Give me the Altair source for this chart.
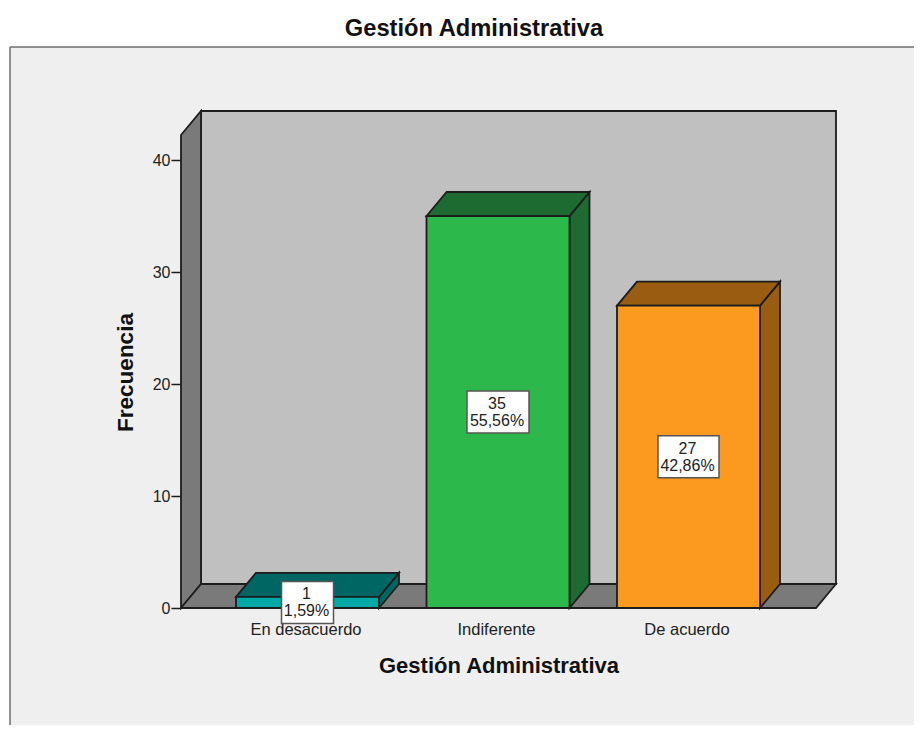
import json
import altair as alt
import pandas as pd

categories = ["En desacuerdo", "Indiferente", "De acuerdo"]
counts = [1, 35, 27]
percents = ["1,59%", "55,56%", "42,86%"]
front_colors = ["#00a9a5", "#2db84b", "#fb9a1e"]
dark_colors = ["#006663", "#1d6b30", "#995c11"]
box_half_px = [26, 31, 30.5]
title_text = "Gestión Administrativa"
y_title = "Frecuencia"
y_ticks = [0, 10, 20, 30, 40]

PW, PH = 655, 497
PX_X, PX_Y = 190.5, 11.2
xd = (1 + (181 - 307.5) / PX_X, 1 + (836 - 307.5) / PX_X)
yd = (0, PH / PX_Y)
DX, DY = 20 / PX_X, 24 / PX_Y
HALF = 71.5 / PX_X
INK = "#1c1c1c"
SW = 1.8
FRONT_R = xd[1] - DX
FONT = "Liberation Sans"

xscale = alt.Scale(domain=list(xd), nice=False, zero=False)
yscale = alt.Scale(domain=list(yd), nice=False)
xaxis = alt.Axis(values=[1, 2, 3], title=title_text, domain=False, ticks=False, grid=False,
                 labelExpr=json.dumps(categories) + "[datum.value - 1]",
                 labelFont=FONT, labelFontSize=16.5, labelColor="#222", labelPadding=13, labelOffset=-2,
                 titleFont=FONT, titleFontSize=22, titleFontWeight="bold", titleColor="#111",
                 titlePadding=18, titleX=317.5, labelOverlap=False)
yaxis = alt.Axis(values=y_ticks, title=y_title, domain=False, ticks=True, tickSize=10, tickWidth=1.5,
                 tickColor=INK, grid=False, labelFont=FONT, labelFontSize=16, labelColor="#222",
                 labelPadding=1, titleFont=FONT, titleFontSize=22.5, titleFontWeight="bold",
                 titleColor="#111", titlePadding=15, titleY=261)

x = lambda f="x": alt.X(f"{f}:Q", scale=xscale, axis=xaxis)
y = lambda f="y": alt.Y(f"{f}:Q", scale=yscale, axis=yaxis)

def side(key, xv, top, fill):
    return [{"k": key, "x": xv, "y": top, "y2": 0, "fill": fill},
            {"k": key, "x": xv + DX, "y": top + DY, "y2": DY, "fill": fill}]

def lid(key, l, r, v, fill):
    return [{"k": key, "x": l, "x2": r, "y": v, "fill": fill},
            {"k": key, "x": l + DX, "x2": r + DX, "y": v + DY, "fill": fill}]

sides, lids, fronts, labels = [], [], [], []
for i, c in enumerate(categories):
    cx, v = i + 1, counts[i]
    sides += side(c, cx + HALF, v, dark_colors[i])
    lids += lid(c, cx - HALF, cx + HALF, v, dark_colors[i])
    fronts.append({"x": cx - HALF, "x2": cx + HALF, "y": 0, "y2": v, "fill": front_colors[i]})
    labels.append({"x": cx, "y": v / 2, "x0": cx - box_half_px[i] / PX_X, "x1": cx + box_half_px[i] / PX_X,
                   "y0": v / 2 - 21 / PX_Y, "y1": v / 2 + 21 / PX_Y,
                   "n": str(v), "p": percents[i]})
sides_df, lids_df = pd.DataFrame(sides), pd.DataFrame(lids)
fronts_df, labels_df = pd.DataFrame(fronts), pd.DataFrame(labels)
wall_side_df = pd.DataFrame(side("wall", xd[0], yd[1] - DY, "#7a7a7a"))
floor_df = pd.DataFrame(lid("floor", xd[0], FRONT_R, 0, "#7a7a7a"))

fill = alt.Fill("fill:N", scale=None, legend=None)
one = pd.DataFrame({"a": [0]})

strip_top = alt.Chart(one).mark_rect(fill="white").encode(
    x=alt.value(-175), x2=alt.value(745), y=alt.value(-106), y2=alt.value(-64))
strip_left = alt.Chart(one).mark_rect(fill="white").encode(
    x=alt.value(-175), x2=alt.value(-171), y=alt.value(-64), y2=alt.value(622))
frame_top = alt.Chart(one).mark_rule(color="#6e6e6e", strokeWidth=1.5).encode(
    x=alt.value(-171), x2=alt.value(745), y=alt.value(-64))
frame_left = alt.Chart(one).mark_rule(color="#6e6e6e", strokeWidth=1.5).encode(
    x=alt.value(-171), y=alt.value(-64), y2=alt.value(622))
main_title = alt.Chart(pd.DataFrame({"t": [title_text]})).mark_text(
    font=FONT, fontSize=23.7, fontWeight="bold", color="#111", baseline="middle").encode(
    x=alt.value(293), y=alt.value(-82), text="t:N")

wall = alt.Chart(pd.DataFrame({"x": [xd[0] + DX], "x2": [xd[1]], "y": [DY], "y2": [yd[1]]})).mark_rect(
    fill="#c0c0c0", stroke=INK, strokeWidth=SW).encode(x=x(), x2="x2:Q", y=y(), y2="y2:Q")

def vert(df):
    return alt.Chart(df).mark_area(orient="vertical", stroke=INK, strokeWidth=SW, opacity=1).encode(
        x=x(), y=y(), y2="y2:Q", fill=fill, detail="k:N")

def horiz(df):
    return alt.Chart(df).mark_area(orient="horizontal", stroke=INK, strokeWidth=SW, opacity=1).encode(
        y=y(), x=x(), x2="x2:Q", fill=fill, detail="k:N")

front_faces = alt.Chart(fronts_df).mark_rect(stroke=INK, strokeWidth=SW).encode(
    x=x(), x2="x2:Q", y=y(), y2="y2:Q", fill=fill)

boxes = alt.Chart(labels_df).mark_rect(fill="white", stroke="#555", strokeWidth=1.5).encode(
    x=x("x0"), x2="x1:Q", y=y("y0"), y2="y1:Q")
txt1 = alt.Chart(labels_df).mark_text(font=FONT, fontSize=16, color="#222", dy=-8, dx=-1).encode(
    x=x(), y=y(), text="n:N")
txt2 = alt.Chart(labels_df).mark_text(font=FONT, fontSize=16, color="#222", dy=9, dx=-1).encode(
    x=x(), y=y(), text="p:N")

chart = alt.layer(strip_top, strip_left, frame_top, frame_left, main_title, wall, vert(wall_side_df),
                  horiz(floor_df), vert(sides_df), horiz(lids_df), front_faces, boxes, txt1, txt2
                  ).properties(
    width=PW, height=PH, background="#efefef",
    padding={"left": 173, "top": 103, "right": 78, "bottom": 117},
    autosize=alt.AutoSizeParams(type="none"),
).configure_view(stroke=None)

chart.save("out.html", embed_options={"renderer": "svg", "actions": False})
